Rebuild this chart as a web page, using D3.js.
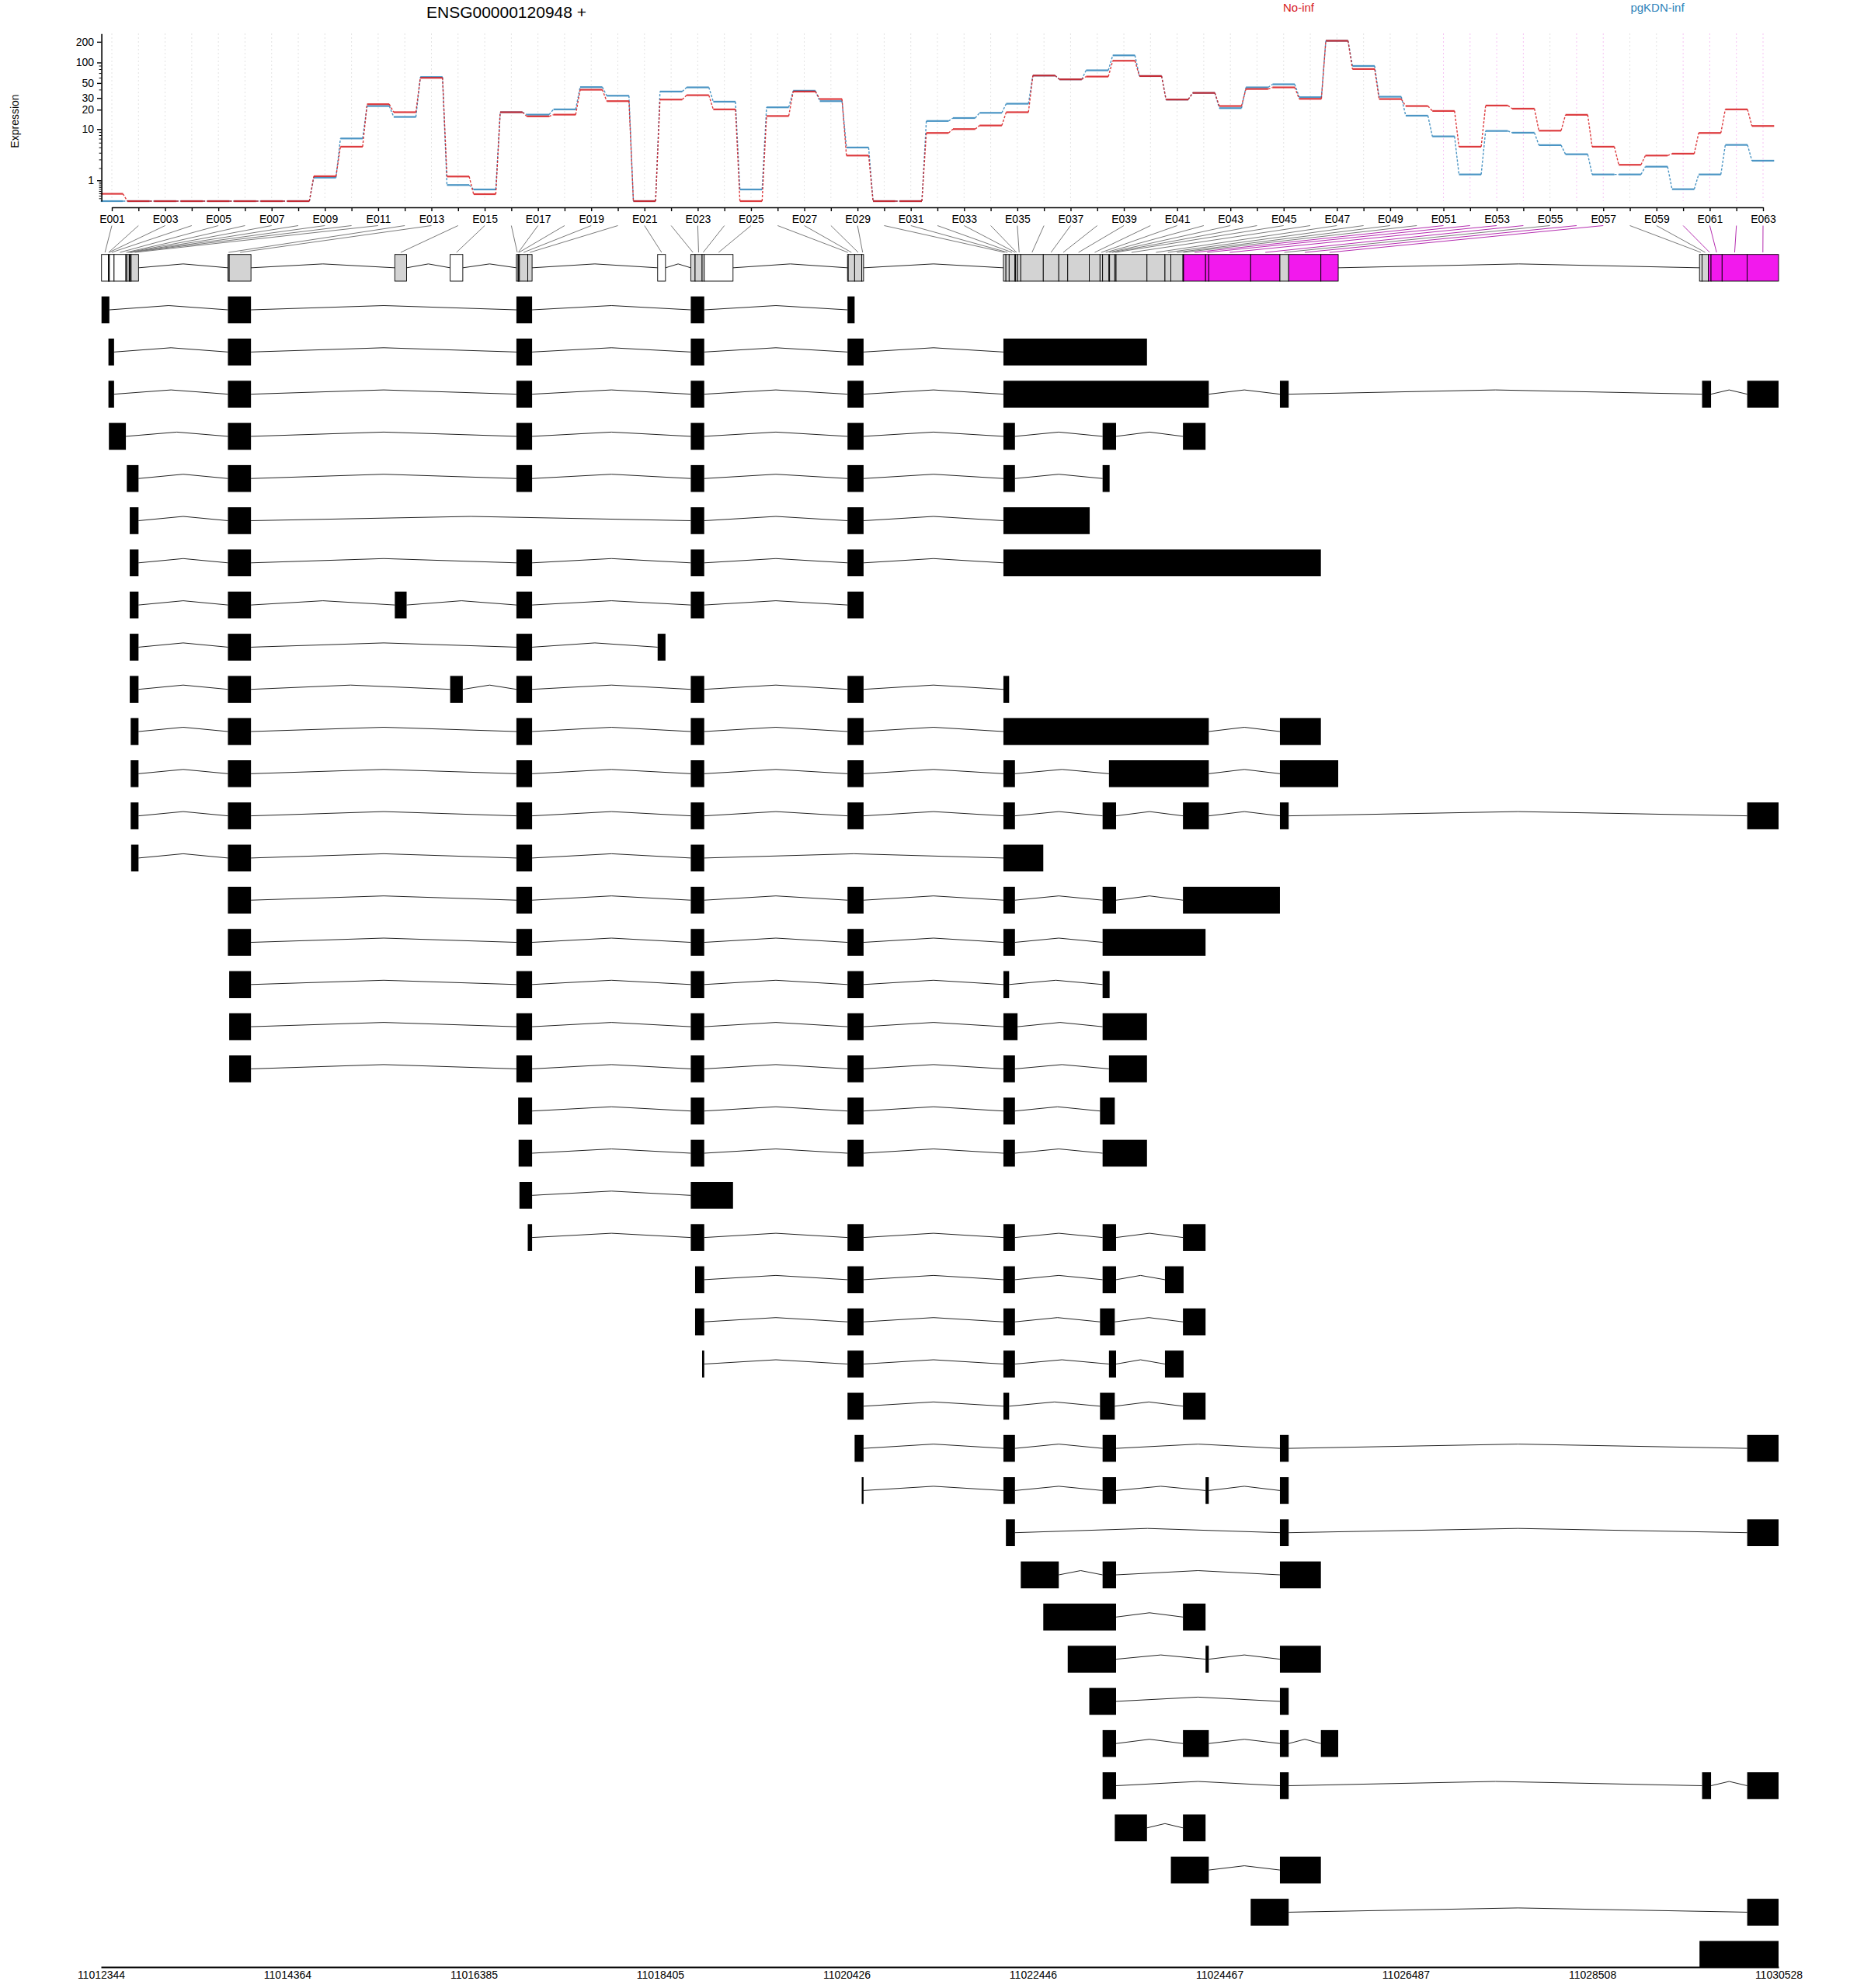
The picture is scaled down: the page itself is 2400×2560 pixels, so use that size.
<!DOCTYPE html>
<html><head><meta charset="utf-8">
<script src="https://cdn.jsdelivr.net/npm/d3@7"></script>
<style>body{margin:0;background:#fff} svg{display:block} text{font-family:"Liberation Sans",Arial,Helvetica,sans-serif}</style>
</head><body><svg id="c" width="2400" height="2560"></svg>
<script>
// ---------------- DATA ----------------
const geneTitle = "ENSG00000120948 +";
const conditions = ["No-inf", "pgKDN-inf"];
const exonIds = d3.range(1, 64).map(i => "E" + String(i).padStart(3, "0"));

// fitted expression per exon bin
const noInf = [0.276,0,0,0,0,0,0,0,1.29,5.12,24.2,18.3,59.6,1.27,0.262,18.3,15.8,16.8,39.8,26.9,
  0,28.4,33.0,20.2,0,16.0,37.4,28.9,3.56,0,0,8.67,10.0,11.4,18.3,64.4,56.6,62.2,106,63.3,
  28.4,35.7,22.7,40.8,43.1,29.1,207,80.3,28.9,22.7,19.1,5.12,23.1,20.7,9.43,16.7,5.12,2.35,3.56,3.85,
  8.67,20.2,11.2];
const pgKDN = [0,0,0,0,0,0,0,0,1.19,7.05,22.7,15.5,61.2,0.71,0.475,18.3,16.8,20.2,43.5,32.4,
  0,37.4,43.1,26.4,0.475,21.7,38.4,26.9,4.96,0,0,13.4,14.9,17.9,24.6,64.4,56.6,76.8,127,63.3,
  28.4,35.7,21.1,43.1,47.9,30.8,207,89,31.3,16.2,7.63,1.43,9.34,8.75,5.45,3.76,1.43,1.43,2.15,0.487,
  1.43,5.50,2.84];

// exon bin genomic coordinates
const binStart = [11012350,11012425,11012430,11012435,11012486,11012614,11012624,11012650,11012656,11012666,
  11012671,11013720,11013734,11015529,11016129,11016847,11016866,11016871,11016880,11016970,
  11018378,11018737,11018784,11018860,11018883,11020436,11020444,11020513,11020590,11022126,
  11022153,11022188,11022251,11022258,11022279,11022314,11022558,11022726,11022823,11023057,
  11023173,11023201,11023270,11023277,11023333,11023347,11023682,11023877,11023941,11024072,
  11024079,11024317,11024352,11024806,11025123,11025218,11025567,11029671,11029699,11029766,
  11029796,11029916,11030188];
const binEnd = [11012425,11012430,11012435,11012486,11012614,11012624,11012650,11012656,11012666,11012671,
  11012751,11013734,11013970,11015657,11016266,11016866,11016871,11016880,11016970,11017017,
  11018463,11018784,11018860,11018883,11019195,11020444,11020513,11020590,11020610,11022153,
  11022188,11022251,11022258,11022279,11022314,11022558,11022726,11022823,11023057,11023173,
  11023201,11023270,11023277,11023333,11023347,11023682,11023877,11023941,11024072,11024079,
  11024317,11024352,11024806,11025123,11025218,11025567,11025755,11029699,11029766,11029796,
  11029916,11030188,11030528];
// u = not tested (white), t = tested (grey), s = significant (magenta)
const binStatus = ["u","u","u","u","u","t","t","t","t","t","t","t","t","t","u","t","t","t","t","t",
  "u","t","t","t","u","t","t","t","t","t","t","t","t","t","t","t","t","t","t","t",
  "t","t","t","t","t","t","t","t","t","t","s","s","s","s","t","s","s","t","t","s",
  "s","s","s"];

// transcripts: list of exons [start, end]
const transcripts = [
  [[11012350,11012435],[11013720,11013970],[11016847,11017017],[11018737,11018883],[11020436,11020513]],
  [[11012425,11012486],[11013720,11013970],[11016847,11017017],[11018737,11018883],[11020436,11020610],[11022126,11023682]],
  [[11012425,11012486],[11013720,11013970],[11016847,11017017],[11018737,11018883],[11020436,11020610],[11022126,11024352],[11025123,11025218],[11029699,11029796],[11030188,11030528]],
  [[11012430,11012614],[11013720,11013970],[11016847,11017017],[11018737,11018883],[11020436,11020610],[11022126,11022251],[11023201,11023347],[11024072,11024317]],
  [[11012624,11012751],[11013720,11013970],[11016847,11017017],[11018737,11018883],[11020436,11020610],[11022126,11022251],[11023201,11023277]],
  [[11012656,11012751],[11013720,11013970],[11018737,11018883],[11020436,11020610],[11022126,11023061]],
  [[11012656,11012751],[11013720,11013970],[11016847,11017017],[11018737,11018883],[11020436,11020610],[11022126,11025567]],
  [[11012656,11012751],[11013720,11013970],[11015529,11015657],[11016847,11017017],[11018737,11018883],[11020436,11020610]],
  [[11012656,11012751],[11013720,11013970],[11016847,11017017],[11018378,11018463]],
  [[11012656,11012751],[11013720,11013970],[11016129,11016266],[11016847,11017017],[11018737,11018883],[11020436,11020610],[11022126,11022188]],
  [[11012666,11012751],[11013720,11013970],[11016847,11017017],[11018737,11018883],[11020436,11020610],[11022126,11024352],[11025123,11025567]],
  [[11012666,11012751],[11013720,11013970],[11016847,11017017],[11018737,11018883],[11020436,11020610],[11022126,11022251],[11023270,11024352],[11025123,11025755]],
  [[11012666,11012751],[11013720,11013970],[11016847,11017017],[11018737,11018883],[11020436,11020610],[11022126,11022251],[11023201,11023347],[11024072,11024352],[11025123,11025218],[11030188,11030528]],
  [[11012671,11012751],[11013720,11013970],[11016847,11017017],[11018737,11018883],[11022126,11022558]],
  [[11013720,11013970],[11016847,11017017],[11018737,11018883],[11020436,11020610],[11022126,11022251],[11023201,11023347],[11024072,11025123]],
  [[11013720,11013970],[11016847,11017017],[11018737,11018883],[11020436,11020610],[11022126,11022251],[11023201,11024317]],
  [[11013734,11013970],[11016847,11017017],[11018737,11018883],[11020436,11020610],[11022126,11022188],[11023201,11023277]],
  [[11013734,11013970],[11016847,11017017],[11018737,11018883],[11020436,11020610],[11022126,11022279],[11023201,11023682]],
  [[11013734,11013970],[11016847,11017017],[11018737,11018883],[11020436,11020610],[11022126,11022251],[11023270,11023682]],
  [[11016866,11017017],[11018737,11018883],[11020436,11020610],[11022126,11022251],[11023173,11023333]],
  [[11016871,11017017],[11018737,11018883],[11020436,11020610],[11022126,11022251],[11023201,11023682]],
  [[11016880,11017017],[11018737,11019195]],
  [[11016970,11017017],[11018737,11018883],[11020436,11020610],[11022126,11022251],[11023201,11023347],[11024072,11024317]],
  [[11018784,11018883],[11020436,11020610],[11022126,11022251],[11023201,11023347],[11023877,11024079]],
  [[11018784,11018883],[11020436,11020610],[11022126,11022251],[11023173,11023333],[11024072,11024317]],
  [[11018860,11018883],[11020436,11020610],[11022126,11022251],[11023270,11023347],[11023877,11024079]],
  [[11020436,11020610],[11022126,11022188],[11023173,11023333],[11024072,11024317]],
  [[11020513,11020610],[11022126,11022251],[11023201,11023347],[11025123,11025218],[11030188,11030528]],
  [[11020590,11020610],[11022126,11022251],[11023201,11023347],[11024317,11024352],[11025123,11025218]],
  [[11022153,11022251],[11025123,11025218],[11030188,11030528]],
  [[11022314,11022726],[11023201,11023347],[11025123,11025567]],
  [[11022558,11023347],[11024072,11024317]],
  [[11022823,11023347],[11024317,11024352],[11025123,11025567]],
  [[11023057,11023347],[11025123,11025218]],
  [[11023201,11023347],[11024072,11024352],[11025123,11025218],[11025567,11025755]],
  [[11023201,11023347],[11025123,11025218],[11029699,11029796],[11030188,11030528]],
  [[11023333,11023682],[11024072,11024317]],
  [[11023941,11024352],[11025123,11025567]],
  [[11024806,11025218],[11030188,11030528]],
  [[11029671,11030528]]
];

const genomeTicks = [11012344,11014364,11016385,11018405,11020426,11022446,11024467,11026487,11028508,11030528];
const yTicks = [1,10,20,30,50,100,200];
const yMinorTicks = [0.1,0.2,0.3,0.4,0.5,0.6,0.7,0.8,0.9,2,3,4,5,6,7,8,9,40,60,70,80,90];

// ---------------- DRAW ----------------
const COL_RED = "#D7191C", COL_BLUE = "#2B83BA", COL_SIG = "#F219ED", COL_GREY = "#D3D3D3";
const svg = d3.select("#c");

const xe = d3.scalePoint().domain(exonIds).range([144, 2270]);
const y = d3.scaleSymlog().constant(1).domain([0, 263]).range([259, 43.3]);
const xg = d3.scaleLinear().domain([genomeTicks[0], genomeTicks[genomeTicks.length - 1]]).range([130, 2290]);

// title + legend
svg.append("text").attr("x", 652).attr("y", 22.5).attr("text-anchor", "middle")
  .attr("font-size", 21).text(geneTitle);
svg.append("text").attr("x", 1672).attr("y", 15).attr("text-anchor", "middle")
  .attr("font-size", 15).attr("fill", COL_RED).text(conditions[0]);
svg.append("text").attr("x", 2134).attr("y", 15).attr("text-anchor", "middle")
  .attr("font-size", 15).attr("fill", COL_BLUE).text(conditions[1]);

// vertical grid
svg.append("g").selectAll("line").data(exonIds).join("line")
  .attr("x1", d => xe(d)).attr("x2", d => xe(d)).attr("y1", 43).attr("y2", 259)
  .attr("stroke", (d, i) => binStatus[i] === "s" ? "#f6c3f4" : "#e3e3e3")
  .attr("stroke-width", 1).attr("stroke-dasharray", "2,3");

// expression lines
const half = 14.3;
function drawSeries(vals, col) {
  const g = svg.append("g").attr("stroke", col).attr("stroke-opacity", 0.85);
  g.selectAll("line.seg").data(vals).join("line").attr("class", "seg")
    .attr("x1", (v, i) => xe(exonIds[i]) - half).attr("x2", (v, i) => xe(exonIds[i]) + half)
    .attr("y1", v => y(v)).attr("y2", v => y(v)).attr("stroke-width", 2.2);
  g.selectAll("line.con").data(vals.slice(0, -1)).join("line").attr("class", "con")
    .attr("x1", (v, i) => xe(exonIds[i]) + half).attr("x2", (v, i) => xe(exonIds[i + 1]) - half)
    .attr("y1", v => y(v)).attr("y2", (v, i) => y(vals[i + 1]))
    .attr("stroke-width", 1.4).attr("stroke-dasharray", "3,2");
}
drawSeries(pgKDN, COL_BLUE);
drawSeries(noInf, COL_RED);

// y axis
const yAx = svg.append("g").attr("transform", "translate(130.6,0)")
  .call(d3.axisLeft(y).tickValues(yTicks).tickFormat(d3.format("d")).tickSize(5.6).tickSizeOuter(0).tickPadding(4));
yAx.selectAll("text").attr("font-size", 14);
yAx.select(".domain").attr("stroke-width", 1.6);
yAx.selectAll(".tick line").attr("stroke-width", 1.4);
const yMin = svg.append("g").attr("transform", "translate(130.6,0)")
  .call(d3.axisLeft(y).tickValues(yMinorTicks).tickFormat("").tickSize(3).tickSizeOuter(0));
yMin.select(".domain").remove();
svg.append("text").attr("transform", "translate(24,156) rotate(-90)").attr("text-anchor", "middle")
  .attr("font-size", 14).text("Expression");

// exon axis
const xAx = svg.append("g").attr("transform", "translate(0,267)")
  .call(d3.axisBottom(xe).tickFormat((d, i) => i % 2 === 0 ? d : "").tickSize(5).tickSizeOuter(0).tickPadding(5));
xAx.selectAll("text").attr("font-size", 14);
xAx.select(".domain").attr("stroke-width", 1.6);
xAx.selectAll(".tick line").attr("stroke-width", 1.4);

// connection lines label -> bin
svg.append("g").selectAll("line").data(exonIds).join("line")
  .attr("x1", d => xe(d)).attr("y1", 290.5)
  .attr("x2", (d, i) => xg((binStart[i] + binEnd[i]) / 2)).attr("y2", 325)
  .attr("stroke", (d, i) => binStatus[i] === "s" ? "#b52db0" : "#7a7a7a")
  .attr("stroke-width", 1);

// gene model
const gmTop = 327.7, gmH = 34.3, gmMid = gmTop + gmH / 2;
const union = [];
binStart.forEach((s, i) => {
  const e = binEnd[i];
  if (union.length && s - union[union.length - 1][1] <= 1) union[union.length - 1][1] = Math.max(e, union[union.length - 1][1]);
  else union.push([s, e]);
});
const intronPath = (exons, mid, peak) => {
  const p = d3.path();
  for (let k = 0; k < exons.length - 1; k++) {
    const a = xg(exons[k][1]), b = xg(exons[k + 1][0]);
    p.moveTo(a, mid); p.lineTo((a + b) / 2, mid - peak); p.lineTo(b, mid);
  }
  return p.toString();
};
svg.append("path").attr("d", intronPath(union, gmMid, 5)).attr("fill", "none")
  .attr("stroke", "#222").attr("stroke-width", 1);
svg.append("g").selectAll("rect").data(exonIds).join("rect")
  .attr("x", (d, i) => xg(binStart[i])).attr("width", (d, i) => Math.max(0.5, xg(binEnd[i]) - xg(binStart[i])))
  .attr("y", gmTop).attr("height", gmH)
  .attr("fill", (d, i) => binStatus[i] === "s" ? COL_SIG : binStatus[i] === "t" ? COL_GREY : "#ffffff")
  .attr("stroke", "#000").attr("stroke-width", 0.9);

// transcripts
const rowY0 = 399, rowStep = 54.3, rowH = 34.6;
const tg = svg.append("g");
transcripts.forEach((ex, r) => {
  const cy = rowY0 + r * rowStep;
  tg.append("path").attr("d", intronPath(ex, cy, 5.5)).attr("fill", "none")
    .attr("stroke", "#222").attr("stroke-width", 1);
  tg.append("g").selectAll("rect").data(ex).join("rect")
    .attr("x", d => xg(d[0])).attr("width", d => Math.max(1.5, xg(d[1]) - xg(d[0])))
    .attr("y", cy - rowH / 2).attr("height", rowH).attr("fill", "#000");
});

// genomic axis
const gAx = svg.append("g").attr("transform", "translate(0,2533)")
  .call(d3.axisBottom(xg).tickValues(genomeTicks).tickFormat(d3.format("d")).tickSize(0).tickSizeOuter(0).tickPadding(5));
gAx.selectAll("text").attr("font-size", 14);
gAx.select(".domain").attr("stroke-width", 1.8);
</script></body></html>
